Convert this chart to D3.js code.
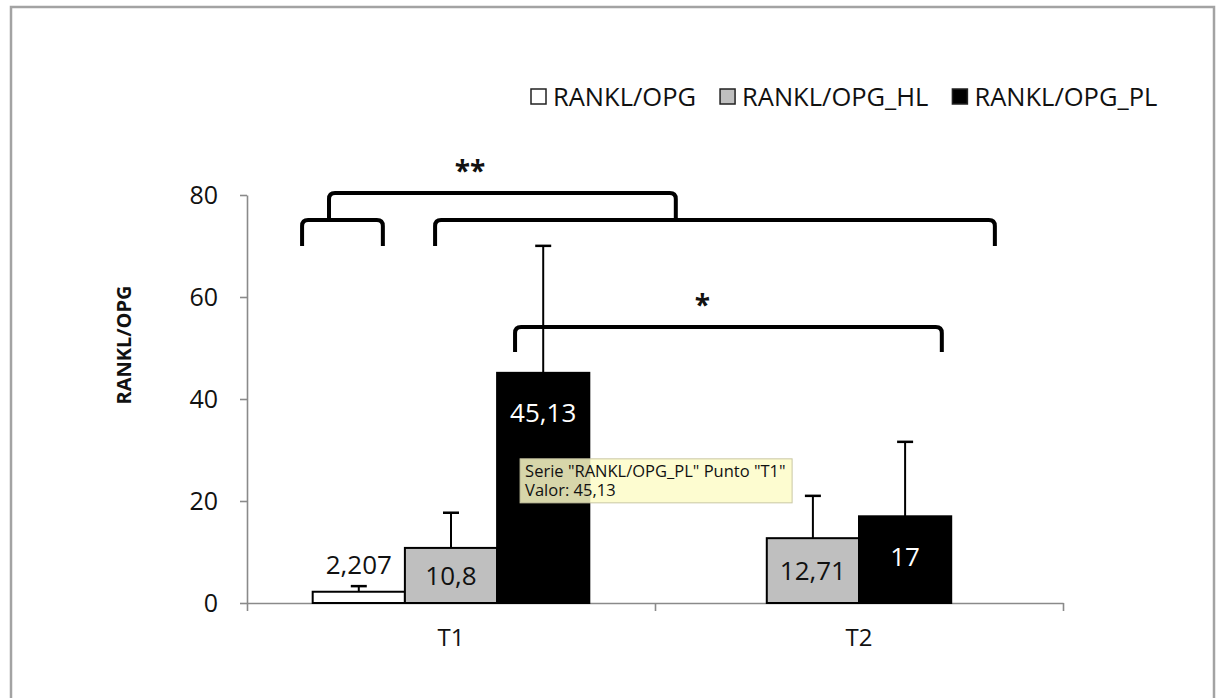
<!DOCTYPE html>
<html>
<head>
<meta charset="utf-8">
<script src="https://cdn.jsdelivr.net/npm/d3@7"></script>
<style>
  body { margin: 0; background: #fff; }
  text { font-family: "Open Sans", sans-serif; }
</style>
</head>
<body>
<div id="chart"></div>
<script>
// data
const categories = ["T1", "T2"];
const seriesNames = ["RANKL/OPG", "RANKL/OPG_HL", "RANKL/OPG_PL"];
const meansT1 = [2.207, 10.8, 45.13];
const meansT2 = [null, 12.71, 17];
const errorsT1 = [1.1, 6.9, 24.9];
const errorsT2 = [null, 8.3, 14.6];
const yTicks = [0, 20, 40, 60, 80];

// significance brackets: x in category units, y in value units
const bracketX1 = [0.135, 0.461, 0.201, 0.657];
const bracketX2 = [0.333, 1.833, 1.051, 1.703];
const bracketTop = [75.1, 75.1, 80.4, 54.1];
const bracketLeg = [70.0, 70.0, 75.1, 49.2];
const starLabels = ["", "", "**", "*"];

const tooltipLines = ['Serie "RANKL/OPG_PL" Punto "T1"', "Valor: 45,13"];

const width = 1220, height = 698;
const margin = { top: 195, right: 157, bottom: 95, left: 247 };
const innerWidth = width - margin.left - margin.right;
const innerHeight = height - margin.top - margin.bottom;

const colors = ["#ffffff", "#bfbfbf", "#000000"];
const fmt = v => String(v).replace(".", ",");

const data = [];
[meansT1, meansT2].forEach((means, ci) => {
  const errs = ci === 0 ? errorsT1 : errorsT2;
  const present = means.map((m, si) => si).filter(si => means[si] != null);
  present.forEach((si, k) => {
    data.push({ cat: categories[ci], series: si, value: means[si], err: errs[si], slot: k, n: present.length });
  });
});

const svg = d3.select("#chart").append("svg")
  .attr("width", width)
  .attr("height", height);

// outer frame
svg.append("rect")
  .attr("x", 11).attr("y", 7)
  .attr("width", 1203).attr("height", 720)
  .attr("fill", "none")
  .attr("stroke", "#a3a3a3")
  .attr("stroke-width", 2.5);

const innerChart = svg.append("g")
  .attr("transform", `translate(${margin.left}, ${margin.top})`);

const xScale = d3.scaleBand().domain(categories).range([0, innerWidth]);
const xPos = d3.scaleLinear().domain([0, categories.length]).range([0, innerWidth]);
const yScale = d3.scaleLinear().domain([0, 80]).range([innerHeight, 0]);
const barW = xScale.bandwidth() * 0.226;
const barX = d => xScale(d.cat) + xScale.bandwidth() / 2 + (d.slot - d.n / 2) * barW;

// axes
const yAxis = innerChart.append("g")
  .call(d3.axisLeft(yScale).tickValues(yTicks).tickSize(7).tickSizeOuter(0).tickPadding(22));
yAxis.selectAll("text")
  .attr("font-size", 25).attr("font-family", "Open Sans").attr("fill", "#111");
yAxis.selectAll("line, path").attr("stroke", "#8a8a8a").attr("stroke-width", 1.6);

const xAxis = innerChart.append("g")
  .attr("transform", `translate(0, ${innerHeight})`)
  .call(d3.axisBottom(xPos).tickValues(d3.range(categories.length + 1)).tickFormat("").tickSize(8).tickSizeOuter(0));
xAxis.selectAll("line, path").attr("stroke", "#8a8a8a").attr("stroke-width", 1.6);

const xLabels = innerChart.append("g")
  .attr("transform", `translate(0, ${innerHeight})`)
  .call(d3.axisBottom(xScale).tickSize(0).tickPadding(26));
xLabels.select(".domain").remove();
xLabels.selectAll("text")
  .attr("font-size", 24).attr("font-family", "Open Sans").attr("fill", "#111");

// y title
svg.append("text")
  .attr("transform", `translate(131, 345) rotate(-90)`)
  .attr("text-anchor", "middle")
  .attr("font-size", 20)
  .attr("font-weight", "bold")
  .attr("fill", "#111")
  .text("RANKL/OPG");

// bars
innerChart.selectAll(".bar")
  .data(data)
  .join("rect")
    .attr("class", "bar")
    .attr("x", barX)
    .attr("y", d => yScale(d.value))
    .attr("width", barW)
    .attr("height", d => yScale(0) - yScale(d.value))
    .attr("fill", d => colors[d.series])
    .attr("stroke", "#000")
    .attr("stroke-width", 2);

// error bars (upper only)
const errG = innerChart.selectAll(".err")
  .data(data)
  .join("g")
    .attr("class", "err")
    .attr("transform", d => `translate(${barX(d) + barW / 2}, 0)`);
errG.append("line")
  .attr("y1", d => yScale(d.value))
  .attr("y2", d => yScale(d.value + d.err))
  .attr("stroke", "#000").attr("stroke-width", 2);
errG.append("line")
  .attr("x1", -8).attr("x2", 8)
  .attr("y1", d => yScale(d.value + d.err))
  .attr("y2", d => yScale(d.value + d.err))
  .attr("stroke", "#000").attr("stroke-width", 2.5);

// value labels
innerChart.selectAll(".val")
  .data(data)
  .join("text")
    .attr("class", "val")
    .attr("x", d => barX(d) + barW / 2)
    .attr("y", d => {
      const top = yScale(d.value), h = yScale(0) - top;
      if (h < 30) return top - 27;
      return Math.min(top + h / 2, top + 40);
    })
    .attr("dy", "0.36em")
    .attr("text-anchor", "middle")
    .attr("font-size", 26)
    .attr("fill", d => d.series === 2 ? "#fff" : "#111")
    .text(d => fmt(d.value));

// significance brackets
const r = 6;
innerChart.selectAll(".bracket")
  .data(d3.range(bracketX1.length))
  .join("path")
    .attr("class", "bracket")
    .attr("fill", "none")
    .attr("stroke", "#000")
    .attr("stroke-width", 4)
    .attr("d", i => {
      const x1 = xPos(bracketX1[i]), x2 = xPos(bracketX2[i]);
      const yt = yScale(bracketTop[i]), yl = yScale(bracketLeg[i]);
      return `M${x1},${yl} L${x1},${yt + r} Q${x1},${yt} ${x1 + r},${yt} ` +
             `L${x2 - r},${yt} Q${x2},${yt} ${x2},${yt + r} L${x2},${yl}`;
    });

innerChart.selectAll(".star")
  .data(d3.range(bracketX1.length).filter(i => starLabels[i]))
  .join("text")
    .attr("class", "star")
    .attr("x", i => i === 2 ? xPos(bracketX1[i]) + 141 : (xPos(bracketX1[i]) + xPos(bracketX2[i])) / 2 - 26)
    .attr("y", i => yScale(bracketTop[i]) - 12)
    .attr("text-anchor", "middle")
    .attr("font-size", 28)
    .attr("font-weight", "bold")
    .attr("fill", "#111")
    .text(i => starLabels[i]);

// tooltip over the T1 PL bar
const tipBar = data.find(d => d.cat === "T1" && d.series === 2);
const tip = innerChart.append("g")
  .attr("transform", `translate(${barX(tipBar) + 23}, ${yScale(tipBar.value) + 86})`);
tip.append("rect")
  .attr("width", 272).attr("height", 44)
  .attr("fill", "#fdfbc8")
  .attr("fill-opacity", 0.85)
  .attr("stroke", "#c9c7a4")
  .attr("stroke-width", 1);
tip.selectAll("text")
  .data(tooltipLines)
  .join("text")
    .attr("x", 5)
    .attr("y", (d, i) => 18 + i * 19)
    .attr("font-size", 16.5)
    .attr("fill", "#111")
    .text(d => d);

// legend
const legend = svg.append("g").attr("transform", "translate(531, 97)");
let lx = 0;
seriesNames.forEach((name, i) => {
  const item = legend.append("g").attr("transform", `translate(${lx}, 0)`);
  item.append("rect")
    .attr("x", 0).attr("y", -8)
    .attr("width", 15).attr("height", 15)
    .attr("fill", colors[i])
    .attr("stroke", "#222")
    .attr("stroke-width", 1.5);
  const t = item.append("text")
    .attr("x", 22)
    .attr("dy", "0.36em")
    .attr("font-size", 25.5)
    .attr("fill", "#111")
    .text(name);
  lx += 22 + t.node().getComputedTextLength() + 24;
});
</script>
</body>
</html>
